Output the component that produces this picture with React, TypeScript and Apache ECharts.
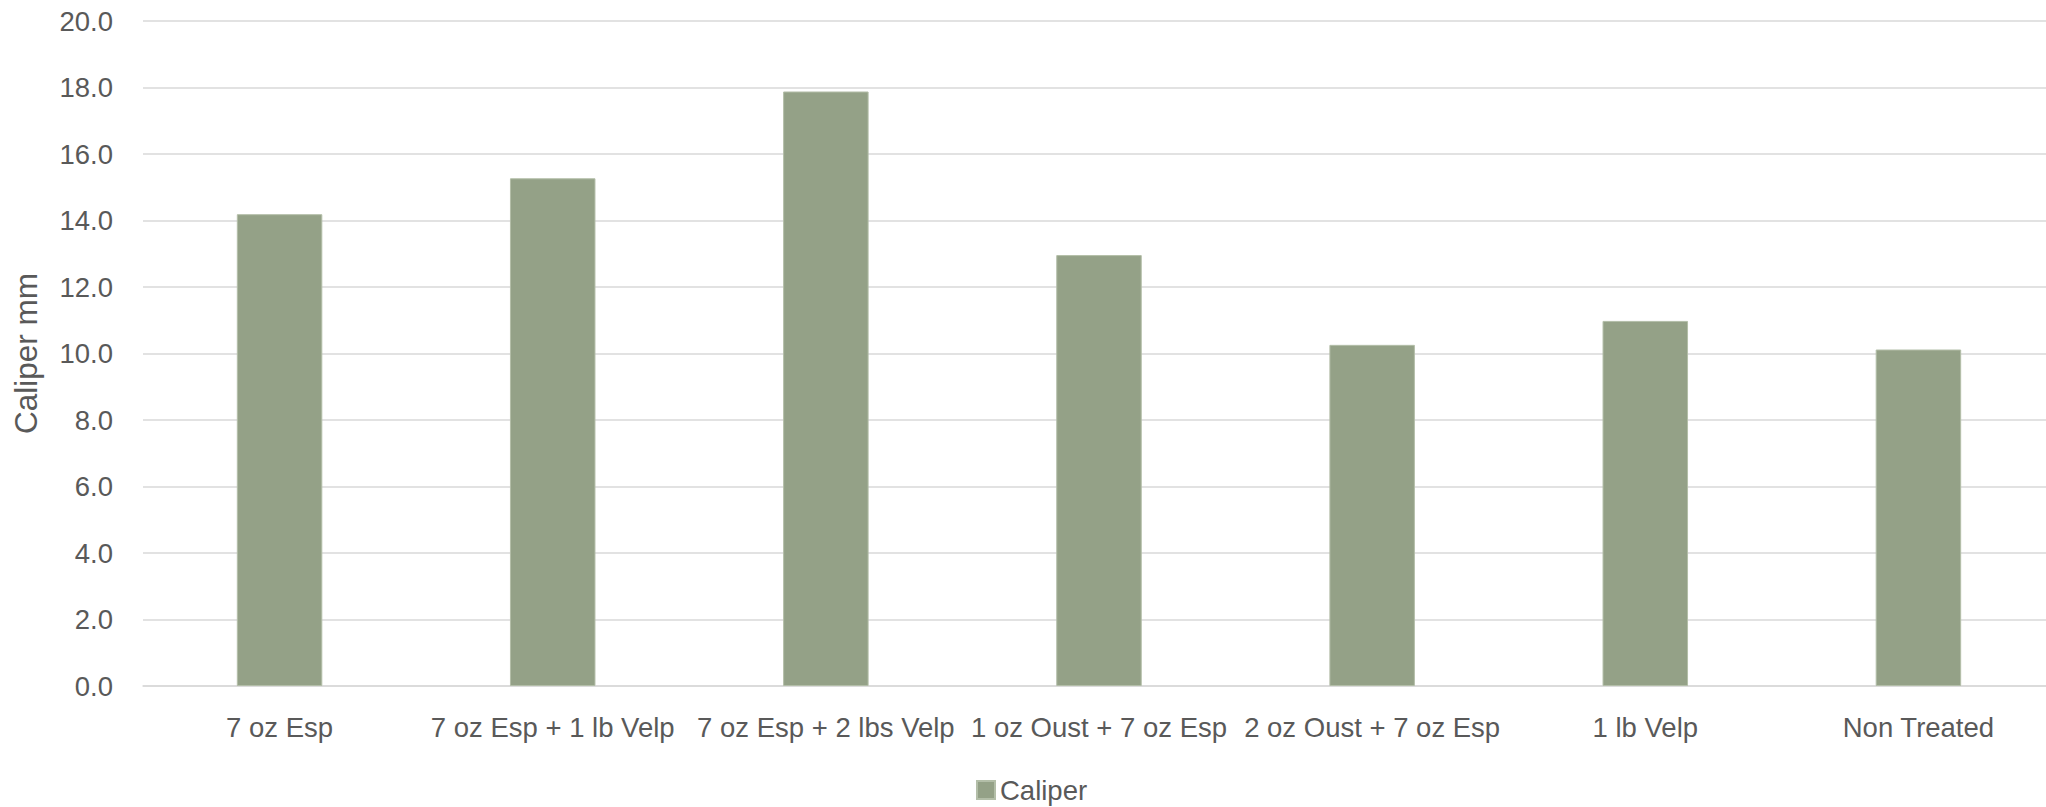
import React, { useEffect, useRef } from "react";
import * as echarts from "echarts";

const categories = [
  "7 oz Esp",
  "7 oz Esp + 1 lb Velp",
  "7 oz Esp + 2 lbs Velp",
  "1 oz Oust + 7 oz Esp",
  "2 oz Oust + 7 oz Esp",
  "1 lb Velp",
  "Non Treated",
];
const caliper = [14.19, 15.27, 17.88, 12.96, 10.26, 10.98, 10.12];
const seriesName = "Caliper";
const yAxisTitle = "Caliper mm";

const TEXT = "#595959";
const FONT = "'Liberation Sans', Arial, sans-serif";

export default function App() {
  const ref = useRef<HTMLDivElement>(null);
  useEffect(() => {
    if (!ref.current) return;
    const chart = echarts.init(ref.current, null, { renderer: "svg" });
    chart.setOption({
      animation: false,
      backgroundColor: "#ffffff",
      textStyle: { fontFamily: FONT, color: TEXT },
      grid: { left: 143, right: 0, top: 21, bottom: 121, containLabel: false },
      legend: {
        show: true,
        left: 971,
        top: 771,
        itemWidth: 18,
        itemHeight: 18,
        itemGap: 20,
        icon: "rect",
        textStyle: { fontFamily: FONT, fontSize: 27.5, color: TEXT, padding: [0, 0, 0, 0] },
        data: [seriesName],
      },
      xAxis: {
        type: "category",
        data: categories,
        axisLine: { show: true, lineStyle: { color: "#d9d9d9", width: 1.5 } },
        axisTick: { show: false },
        axisLabel: {
          interval: 0,
          fontFamily: FONT,
          fontSize: 27.5,
          color: TEXT,
          margin: 26,
          lineHeight: 30,
        },
        splitLine: { show: false },
      },
      yAxis: {
        type: "value",
        min: 0,
        max: 20,
        interval: 2,
        name: yAxisTitle,
        nameLocation: "middle",
        nameGap: 101,
        nameRotate: 90,
        nameTextStyle: { fontFamily: FONT, fontSize: 31.5, color: TEXT },
        axisLine: { show: false },
        axisTick: { show: false },
        axisLabel: {
          fontFamily: FONT,
          fontSize: 27.5,
          color: TEXT,
          margin: 30,
          formatter: (v: number) => v.toFixed(1),
        },
        splitLine: { show: true, lineStyle: { color: "#d9d9d9", width: 1.5 } },
      },
      series: [
        {
          name: seriesName,
          type: "bar",
          data: caliper,
          barWidth: "31.3%",
          itemStyle: { color: "#94a187", borderColor: "#b3bea8", borderWidth: 1 },
        },
      ],
    });
    return () => chart.dispose();
  }, []);
  return (
    <div
      style={{
        position: "absolute",
        left: 0,
        top: 0,
        width: 2046,
        height: 807,
        overflow: "hidden",
      }}
    >
      <div ref={ref} style={{ width: 2055, height: 807 }} />
    </div>
  );
}
